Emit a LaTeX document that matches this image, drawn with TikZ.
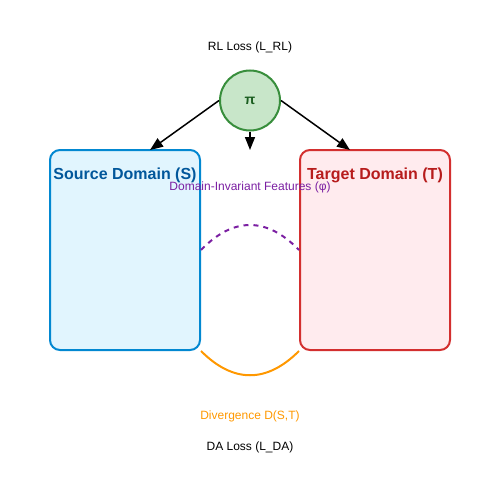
\documentclass[tikz,border=0pt]{standalone}
\usepackage{fontspec}
\setmainfont{Liberation Sans}
\usetikzlibrary{arrows.meta}
\definecolor{piFill}{HTML}{C8E6C9}
\definecolor{piLine}{HTML}{388E3C}
\definecolor{piText}{HTML}{1B5E20}
\definecolor{srcFill}{HTML}{E1F5FE}
\definecolor{srcLine}{HTML}{0288D1}
\definecolor{srcText}{HTML}{01579B}
\definecolor{tgtFill}{HTML}{FFEBEE}
\definecolor{tgtLine}{HTML}{D32F2F}
\definecolor{tgtText}{HTML}{B71C1C}
\definecolor{featCol}{HTML}{7B1FA2}
\definecolor{divCol}{HTML}{FF9800}
\tikzset{
  domainbox/.style={draw, line width=2pt, rounded corners=10pt, minimum width=150pt, minimum height=200pt, inner sep=0pt},
  title/.style={font=\fontsize{16pt}{18pt}\selectfont\bfseries},
  lbl/.style={font=\fontsize{12pt}{14pt}\selectfont, inner sep=0pt},
  arr/.style={line width=1.5pt, -{Triangle[length=13pt,width=10pt]}},
}
\begin{document}
\begin{tikzpicture}[x=1pt,y=-1pt]
\useasboundingbox (0,0) rectangle (500,500);
\node[lbl] (rl) at (250,47.5) {RL Loss (L\_RL)};
\node[circle, draw=piLine, fill=piFill, line width=2pt, minimum size=60pt, inner sep=0pt,
      text=piText, font=\fontsize{14pt}{16pt}\selectfont\bfseries] (pi) at (250,100.5) {π};
\node[domainbox, draw=srcLine, fill=srcFill] (src) at (125,250) {};
\node[domainbox, draw=tgtLine, fill=tgtFill] (tgt) at (375,250) {};
\node[title, text=srcText] (srct) at (125,175.5) {Source Domain (S)};
\node[title, text=tgtText] (tgtt) at (375,175.5) {Target Domain (T)};
\coordinate (srctop) at (150,150);
\coordinate (tgttop) at (350,150);
\coordinate (midtop) at (250,150);
\draw[arr] (pi.west) -- (srctop);
\draw[arr] (pi.south) -- (midtop);
\draw[arr] (pi.east) -- (tgttop);
\node[lbl, text=featCol] (feat) at (250,187) {Domain-Invariant Features (φ)};
\draw[featCol, line width=2pt, dash pattern=on 5pt off 5pt] (src.east) .. controls (233.33,216.67) and (266.67,216.67) .. (tgt.west);
\draw[divCol, line width=2pt] (src.south east) .. controls (233.33,383.33) and (266.67,383.33) .. (tgt.south west);
\node[lbl, text=divCol] (div) at (250,416.5) {Divergence D(S,T)};
\node[lbl] (da) at (250,447.5) {DA Loss (L\_DA)};
\end{tikzpicture}
\end{document}
